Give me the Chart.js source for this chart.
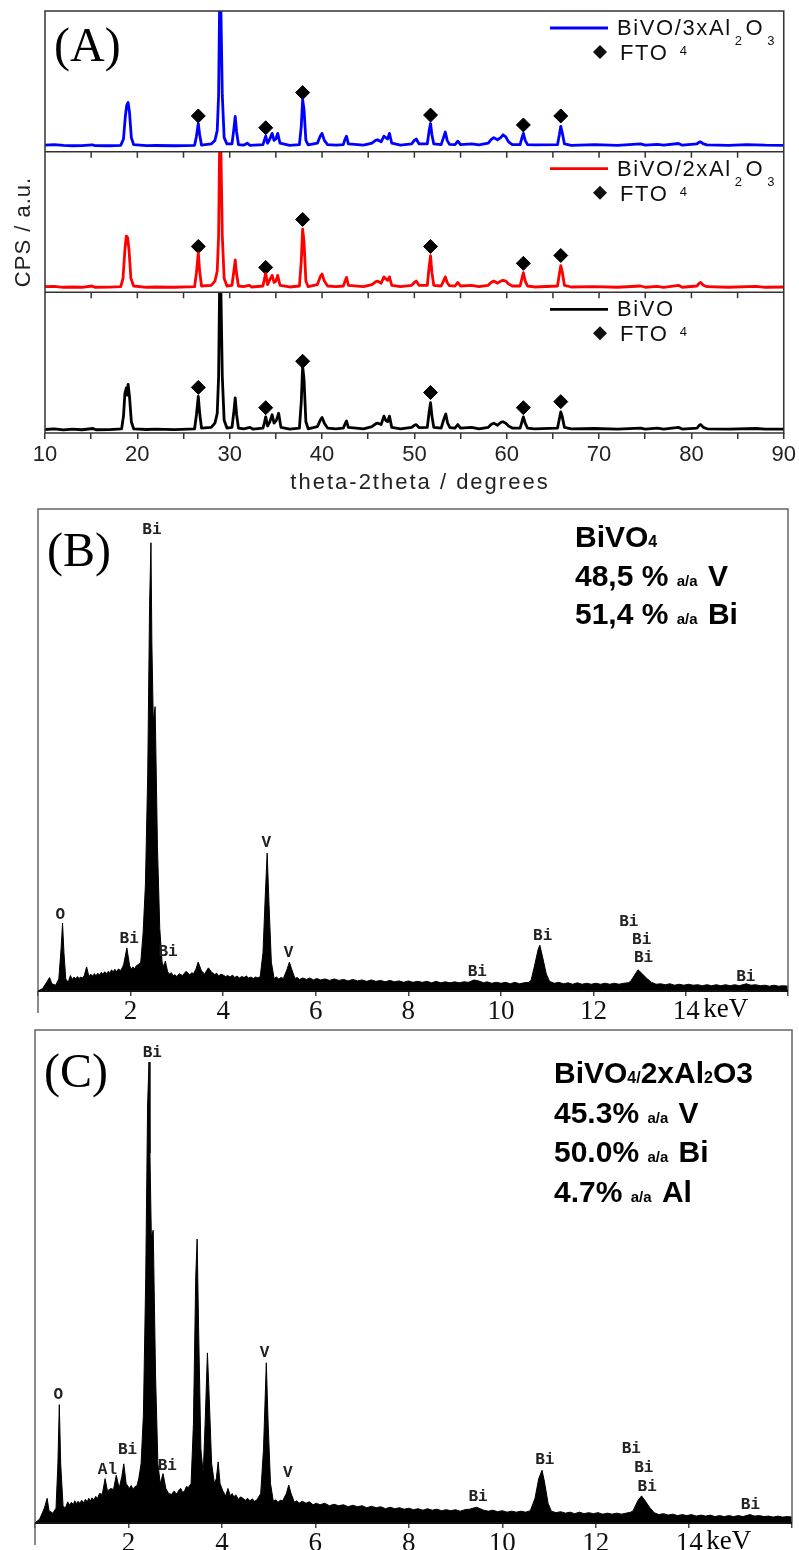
<!DOCTYPE html>
<html>
<head>
<meta charset="utf-8">
<script src="https://cdn.jsdelivr.net/npm/chart.js@4.4.1/dist/chart.umd.min.js"></script>
<style>
  body { margin: 0; background: #fff; }
  #wrap { position: relative; width: 799px; height: 1550px; }
  canvas { position: absolute; left: 0; }
</style>
</head>
<body>
<div id="wrap">
  <canvas id="xrd" width="799" height="500" style="top:0"></canvas>
  <canvas id="edsB" width="799" height="525" style="top:500px"></canvas>
  <canvas id="edsC" width="799" height="525" style="top:1025px"></canvas>
</div>
<script>
// ---- (A) XRD patterns: [2theta, intensity as % of its sub-panel]
var xrdBlue = [[10,4.6],[11,5.0],[12,4.5],[13,4.2],[14,4.3],[15.1,4.9],[15.4,4.3],[17,4.2],[18.2,4.5],[18.5,9],[18.7,25],[18.85,33],[19.0,35],[19.15,28],[19.35,10],[19.6,5],[21,4.3],[22,4.4],[24,4.2],[26.2,4.5],[26.4,11],[26.6,20],[26.75,12],[26.95,4.6],[28.0,5.5],[28.4,8],[28.65,15],[28.8,40],[28.9,100],[29.05,100],[29.2,40],[29.4,10],[29.7,5.5],[30.25,5.5],[30.45,16],[30.6,25],[30.75,14],[30.95,5],[31.5,4.6],[31.9,6],[32.2,4.5],[33.6,5],[33.75,8],[33.9,11],[34.1,6],[34.35,9],[34.6,13],[34.8,8],[35.0,9],[35.2,13],[35.45,6],[36.5,4.5],[37.55,5],[37.75,18],[37.9,37],[38.05,30],[38.25,8],[38.5,4.8],[39.5,6],[39.8,11],[40.0,13],[40.25,8],[40.6,5],[41.5,4.6],[42.3,5],[42.5,9],[42.65,11],[42.85,5.5],[44.5,4.6],[45.4,6],[45.8,8],[46.0,8.5],[46.4,7],[46.7,11],[46.9,10],[47.1,9],[47.3,13],[47.55,6],[48.5,4.6],[49.7,5.5],[50.0,8],[50.2,9],[50.5,5.5],[51.4,5.5],[51.6,15],[51.75,20],[51.9,12],[52.1,5.5],[52.9,5],[53.15,10],[53.35,14],[53.55,8],[53.8,5.2],[54.4,5],[54.7,7.5],[55,5],[56.2,5.5],[57,4.8],[58.0,6],[58.3,8.5],[58.6,10],[59.0,8.5],[59.35,10],[59.6,12],[59.9,10.5],[60.2,7],[60.6,5],[61.45,5],[61.65,10],[61.8,13],[62.0,8],[62.25,5],[63,4.8],[65.5,5],[65.7,12],[65.85,18],[66.0,14],[66.25,5.5],[67,4.5],[69.5,5],[72,4.5],[74.5,5.5],[75,4.6],[76.3,5.2],[77,4.6],[78.6,5.8],[79,4.6],[80.6,5.5],[80.85,6.8],[81.0,7],[81.3,5.5],[81.7,4.8],[84,4.5],[86,5],[88,4.6],[90,4.5]];
var xrdRed = [[10,4],[11,4.3],[12,3.6],[13,3.8],[14,3.6],[15.1,4.5],[15.4,3.6],[17,3.7],[18.2,4],[18.45,10],[18.65,30],[18.8,40],[18.95,39],[19.1,30],[19.3,10],[19.6,4.5],[21,3.6],[22,3.8],[24,3.6],[26.2,4],[26.4,14],[26.6,28],[26.75,15],[26.95,4.5],[28.0,5],[28.4,8],[28.65,15],[28.8,40],[28.9,100],[29.05,100],[29.2,40],[29.4,10],[29.7,4.5],[30.25,5],[30.45,15],[30.6,23],[30.75,13],[30.95,4.5],[31.5,4],[32.1,5],[32.4,3.8],[33.6,4.5],[33.75,9],[33.9,13.5],[34.1,5.5],[34.35,9],[34.6,12],[34.8,7],[35.0,8],[35.2,12],[35.45,5],[36.5,3.8],[37.55,4.5],[37.75,22],[37.9,45],[38.05,36],[38.25,8],[38.5,4],[39.5,5.5],[39.8,11],[40.0,13],[40.25,8],[40.6,4.5],[41.5,4],[42.3,4.5],[42.5,8],[42.65,10.6],[42.85,5],[44.5,4],[45.4,5.5],[45.8,7.5],[46.0,8],[46.4,6.5],[46.7,11],[46.9,9.5],[47.1,8.5],[47.3,11],[47.55,5],[48.5,4],[49.7,5],[50.0,7],[50.2,8],[50.5,5],[51.4,5],[51.6,18],[51.75,26],[51.9,14],[52.1,5],[52.9,4.5],[53.15,8],[53.35,11],[53.55,7],[53.8,4.7],[54.4,4.5],[54.7,7],[55,4.5],[56.2,5],[57,4],[58.0,5],[58.3,7],[58.6,8],[59.0,6.5],[59.35,8],[59.6,8.5],[59.9,8],[60.2,6],[60.6,4.5],[61.45,4.5],[61.65,10],[61.8,14],[62.0,8],[62.25,4.5],[63,3.8],[65.5,4.5],[65.7,13],[65.85,19],[66.0,15],[66.25,5],[67,3.8],[69.5,4],[72,3.6],[74.5,4.5],[75,3.6],[76.3,4.3],[77,3.6],[78.6,5],[79,3.6],[80.6,4.5],[80.85,6.5],[81.0,7],[81.3,5],[81.7,4],[84,3.6],[87,4.3],[88,3.6],[90,3.8]];
var xrdBlack = [[10,2.5],[11,3],[12,2.2],[13,2.8],[14,2.3],[15.2,3.2],[15.5,2.3],[17,2.4],[18.3,3],[18.5,12],[18.65,28],[18.8,32],[18.9,27],[19.0,34.5],[19.15,26],[19.35,8],[19.6,3],[21,2.5],[22,2.8],[24,2.4],[26.2,3],[26.4,13],[26.6,26],[26.75,14],[26.95,3.5],[28.0,4],[28.4,7],[28.65,14],[28.8,40],[28.9,100],[29.05,100],[29.2,40],[29.4,9],[29.7,3.5],[30.25,4],[30.45,15],[30.6,25],[30.75,13],[30.95,3.5],[31.5,3],[32.2,4],[32.5,2.8],[33.6,3.5],[33.75,7],[33.9,11.5],[34.1,5],[34.35,8],[34.6,13],[34.8,7],[35.05,9],[35.3,14],[35.55,4],[36.5,2.8],[37.55,3.5],[37.75,22],[37.9,47.5],[38.05,38],[38.25,8],[38.5,3],[39.5,4.5],[39.8,9],[40.0,11],[40.25,7],[40.6,3.5],[41.5,3],[42.3,3.5],[42.5,6.5],[42.65,8.6],[42.85,4],[44.5,3],[45.4,4.5],[45.8,6.5],[46.0,7],[46.4,6],[46.7,12],[46.9,9],[47.1,8],[47.3,12],[47.55,4],[48.5,3],[49.7,4],[50.0,5.5],[50.2,6],[50.5,3.8],[51.4,4],[51.6,15],[51.75,21.5],[51.9,12],[52.1,4],[52.9,3.5],[53.2,10],[53.4,13.5],[53.6,7],[53.85,3.8],[54.4,3.5],[54.7,6],[55,3.5],[56.2,4],[57,3],[58.0,4],[58.3,6],[58.6,7],[59.0,5.5],[59.35,7.5],[59.6,8],[59.9,7],[60.2,5],[60.6,3.5],[61.45,3.5],[61.65,8],[61.8,11.5],[62.0,7],[62.25,3.5],[63,3],[65.5,3.5],[65.7,10],[65.85,15],[66.0,12],[66.25,4],[67,3],[69.5,3.2],[72,2.8],[74.5,3.5],[75,2.8],[76.3,3.4],[77,2.8],[78.6,4],[79,2.8],[80.6,3.5],[80.85,5.5],[81.0,6],[81.3,4],[81.7,3],[84,2.7],[87,3.2],[88,2.7],[90,2.8]];
var ftoPos = [26.6, 33.9, 37.9, 51.75, 61.8, 65.85];
var ftoBlue = [25.4, 17, 42, 26, 19, 25.4];
var ftoRed = [32.6, 17.7, 51.8, 32.6, 20.6, 26.2];
var ftoBlack = [32.4, 18, 51, 28.8, 18, 22.3];
var xrdNames = ['BiVO4/3xAl2O3', 'BiVO4/2xAl2O3', 'BiVO4'];
var xrdColors = ['#0000ff', '#ff0000', '#000000'];

// ---- (B), (C) EDS spectra: [keV, counts as % of frame height]
var edsB = [[0.0,0],[0.1,0.5],[0.2,2.0],[0.25,2.8],[0.3,1.5],[0.38,1.2],[0.45,2.5],[0.5,9],[0.53,14.1],[0.56,8],[0.6,2.5],[0.65,1.8],[0.7,3.2],[0.74,2.4],[0.78,2.9],[0.82,2.5],[0.85,3.0],[0.89,2.6],[0.92,2.9],[0.96,2.7],[1.0,3.2],[1.05,5],[1.1,3.0],[1.14,3.5],[1.18,3.1],[1.22,3.6],[1.25,3.1],[1.29,3.7],[1.33,3.3],[1.37,3.9],[1.4,3.4],[1.44,4.0],[1.48,3.6],[1.52,4.1],[1.55,3.7],[1.59,4.4],[1.62,3.9],[1.66,4.5],[1.7,4.0],[1.74,4.6],[1.78,4.2],[1.82,4.8],[1.85,5.5],[1.92,8.9],[1.98,5.2],[2.02,4.5],[2.05,5.0],[2.09,4.6],[2.12,5.2],[2.17,5.5],[2.22,6],[2.27,12],[2.32,22],[2.37,45],[2.41,80],[2.44,93],[2.46,72],[2.49,56],[2.53,59],[2.58,30],[2.63,13],[2.68,6],[2.72,5],[2.75,6.2],[2.8,4],[2.84,3.5],[2.88,3.8],[2.92,3.1],[2.95,3.4],[3.0,3.0],[3.05,3.6],[3.12,3.2],[3.2,4.1],[3.28,3.3],[3.32,3.8],[3.36,3.6],[3.41,4.5],[3.46,6],[3.53,4.2],[3.6,3.5],[3.64,4.2],[3.68,4.8],[3.75,3.9],[3.82,3.4],[3.86,3.7],[3.9,3.1],[3.95,3.5],[4.0,3.3],[4.05,3.0],[4.1,3.2],[4.15,2.9],[4.2,3.3],[4.25,2.8],[4.3,3.1],[4.35,2.7],[4.4,3.0],[4.45,2.8],[4.5,3.1],[4.55,2.7],[4.6,2.9],[4.65,2.6],[4.7,2.9],[4.75,2.7],[4.8,3.0],[4.86,8],[4.91,20],[4.95,28.6],[4.99,18],[5.04,6],[5.1,2.6],[5.15,2.9],[5.2,2.5],[5.25,2.8],[5.3,2.6],[5.38,4.5],[5.43,6],[5.48,4.5],[5.55,2.6],[5.6,2.8],[5.65,2.4],[5.72,2.7],[5.8,2.4],[5.87,2.7],[5.95,2.3],[6.02,2.6],[6.1,2.3],[6.2,2.5],[6.3,2.2],[6.4,2.5],[6.5,2.2],[6.6,2.4],[6.7,2.1],[6.8,2.4],[6.9,2.1],[7.0,2.3],[7.1,2.0],[7.2,2.3],[7.3,2.0],[7.4,2.2],[7.5,1.9],[7.6,2.2],[7.7,1.9],[7.8,2.1],[7.9,1.8],[8.0,2.1],[8.1,1.8],[8.2,2.0],[8.3,1.8],[8.4,2.0],[8.5,1.7],[8.6,2.0],[8.7,1.7],[8.8,1.9],[8.9,1.7],[9.0,1.9],[9.1,1.7],[9.2,1.9],[9.3,1.8],[9.42,2.3],[9.55,2.0],[9.62,1.7],[9.7,1.9],[9.8,1.6],[9.9,1.8],[10.0,1.6],[10.1,1.8],[10.2,1.5],[10.3,1.8],[10.4,1.5],[10.5,1.7],[10.6,1.8],[10.65,2.2],[10.72,5],[10.8,8.5],[10.84,9.5],[10.9,7],[10.98,3.5],[11.05,2.0],[11.15,1.6],[11.25,1.8],[11.35,1.5],[11.45,1.7],[11.55,1.4],[11.65,1.7],[11.75,1.4],[11.85,1.6],[11.95,1.4],[12.05,1.6],[12.15,1.4],[12.25,1.6],[12.35,1.4],[12.45,1.6],[12.55,1.4],[12.65,1.6],[12.75,1.7],[12.8,2.0],[12.9,3.5],[12.96,4.4],[13.05,3.6],[13.15,2.6],[13.25,1.8],[13.35,1.4],[13.45,1.5],[13.55,1.3],[13.65,1.5],[13.75,1.2],[13.85,1.4],[13.95,1.2],[14.05,1.4],[14.15,1.2],[14.25,1.3],[14.35,1.1],[14.45,1.3],[14.55,1.1],[14.65,1.3],[14.75,1.1],[14.85,1.3],[14.95,1.1],[15.05,1.3],[15.15,1.1],[15.3,1.5],[15.4,1.2],[15.5,1.3],[15.6,1.1],[15.7,1.2],[15.8,1.0],[15.9,1.2],[16.0,1.0],[16.1,1.1],[16.2,1.0]];
var edsC = [[0.0,0],[0.1,0.8],[0.2,3.0],[0.26,5],[0.3,2.5],[0.38,2],[0.45,3],[0.49,12],[0.52,24],[0.55,12],[0.6,3.5],[0.65,3],[0.7,4.3],[0.74,3.6],[0.78,4.2],[0.82,3.7],[0.85,4.5],[0.89,3.9],[0.92,4.4],[0.96,4.0],[1.0,4.6],[1.04,4.1],[1.08,4.8],[1.12,4.3],[1.15,5.0],[1.19,4.5],[1.22,5.1],[1.26,4.7],[1.3,5.4],[1.34,5.0],[1.38,6],[1.44,5.8],[1.5,9],[1.55,6.5],[1.62,7],[1.68,6.8],[1.74,9.7],[1.8,7],[1.86,9.5],[1.9,12],[1.95,8],[2.02,7],[2.06,7.6],[2.1,6.8],[2.14,7.4],[2.18,7.5],[2.22,9],[2.27,12],[2.32,22],[2.37,50],[2.41,85],[2.44,93.5],[2.46,75],[2.49,58],[2.53,59.4],[2.58,30],[2.63,12],[2.68,8],[2.71,9],[2.74,10],[2.8,7],[2.86,6],[2.92,5.8],[2.98,6.5],[3.02,5.9],[3.05,6.2],[3.09,6.8],[3.12,7],[3.16,6.2],[3.2,6.5],[3.24,7.4],[3.28,7.2],[3.34,8],[3.39,20],[3.44,50],[3.47,57.6],[3.5,40],[3.55,15],[3.6,10],[3.64,20],[3.69,34.5],[3.73,25],[3.78,12],[3.84,8],[3.88,9],[3.92,12.4],[3.96,8],[4.02,6.5],[4.08,5.5],[4.13,7],[4.18,5.5],[4.22,6.0],[4.25,5.3],[4.3,5.7],[4.35,4.8],[4.4,5.3],[4.45,5.0],[4.5,4.6],[4.55,5.0],[4.6,4.5],[4.65,4.9],[4.7,4.4],[4.75,4.7],[4.83,6],[4.89,15],[4.95,32.5],[4.99,20],[5.04,8],[5.1,4.4],[5.15,4.7],[5.2,4.2],[5.25,4.6],[5.3,4.5],[5.38,6],[5.43,7.7],[5.48,6],[5.55,4.2],[5.6,4.5],[5.65,4.0],[5.72,4.4],[5.8,4.0],[5.87,4.3],[5.95,3.7],[6.02,4.0],[6.1,3.7],[6.2,4.0],[6.3,3.5],[6.4,3.8],[6.5,3.5],[6.6,3.7],[6.7,3.3],[6.8,3.6],[6.9,3.3],[7.0,3.5],[7.1,3.1],[7.2,3.4],[7.3,3.1],[7.4,3.3],[7.5,2.9],[7.6,3.2],[7.7,2.9],[7.8,3.1],[7.9,2.8],[8.0,3.0],[8.1,2.7],[8.2,2.9],[8.3,2.6],[8.4,2.9],[8.5,2.6],[8.6,2.8],[8.7,2.5],[8.8,2.7],[8.9,2.5],[9.0,2.7],[9.1,2.4],[9.2,2.7],[9.3,2.8],[9.45,3.2],[9.6,2.6],[9.7,2.4],[9.8,2.6],[9.9,2.3],[10.0,2.5],[10.1,2.2],[10.2,2.4],[10.3,2.2],[10.4,2.4],[10.5,2.2],[10.6,2.5],[10.7,5],[10.78,9],[10.85,10.7],[10.9,8.5],[10.98,4],[11.05,2.4],[11.15,2.1],[11.25,2.3],[11.35,2.0],[11.45,2.2],[11.55,1.9],[11.65,2.2],[11.75,1.9],[11.85,2.1],[11.95,1.9],[12.05,2.1],[12.15,1.8],[12.25,2.0],[12.35,1.8],[12.45,2.0],[12.55,1.8],[12.65,2.0],[12.75,2.2],[12.8,2.5],[12.9,4.5],[12.98,5.5],[13.05,4.6],[13.15,3.2],[13.25,2.1],[13.35,1.7],[13.45,1.9],[13.55,1.6],[13.65,1.8],[13.75,1.5],[13.85,1.7],[13.95,1.5],[14.05,1.7],[14.15,1.4],[14.25,1.6],[14.35,1.4],[14.45,1.6],[14.55,1.3],[14.65,1.5],[14.75,1.3],[14.85,1.5],[14.95,1.3],[15.05,1.5],[15.15,1.3],[15.3,1.7],[15.4,1.4],[15.5,1.5],[15.6,1.3],[15.7,1.4],[15.8,1.2],[15.9,1.4],[16.0,1.2],[16.1,1.3],[16.2,1.2]];
// peak labels: [text, keV, height]
var edsBLabels = [['O',0.48,15.8],['Bi',1.97,10.8],['Bi',2.46,95.6],['Bi',2.81,8.1],['V',4.93,30.7],['V',5.41,7.9],['Bi',9.49,3.9],['Bi',10.9,11.4],['Bi',12.76,14.3],['Bi',13.04,10.6],['Bi',13.08,6.8],['Bi',15.29,2.9]];
var edsCLabels = [['O',0.5,26],['Al',1.55,10.8],['Bi',1.98,14.8],['Bi',2.51,95.3],['Bi',2.83,11.6],['V',4.91,34.5],['V',5.41,10.1],['Bi',9.48,5.3],['Bi',10.91,12.8],['Bi',12.76,15],['Bi',13.03,11.2],['Bi',13.1,7.3],['Bi',15.31,3.7]];
// composition notes: runs of [text, style] (0 big, 1 subscript, 2 small)
var edsBNote = [[['BiVO',0],['4',1]], [['48,5 % ',0],['a/a',2],[' V',0]], [['51,4 % ',0],['a/a',2],[' Bi',0]]];
var edsCNote = [[['BiVO',0],['4/',1],['2xAl',0],['2',1],['O3',0]], [['45.3% ',0],['a/a',2],[' V',0]], [['50.0% ',0],['a/a',2],[' Bi',0]], [['4.7% ',0],['a/a',2],[' Al',0]]];

function pts(arr) { return arr.map(function (p) { return {x: p[0], y: p[1]}; }); }
function ftoPts(ys) { return ftoPos.map(function (x, i) { return {x: x, y: ys[i]}; }); }

function diamond(ctx, x, y, r) {
  ctx.beginPath();
  ctx.moveTo(x, y - r); ctx.lineTo(x + r, y); ctx.lineTo(x, y + r); ctx.lineTo(x - r, y);
  ctx.closePath(); ctx.fill();
}

// formula with subscripts; the first subscript drops to the line below (as in the original legend)
function drawFormula(ctx, s, x, y) {
  var runs = [], cur = '', first = true;
  for (var i = 0; i < s.length; i++) {
    var c = s[i];
    if (/[0-9]/.test(c) && i > 0 && /[A-Za-z]/.test(s[i - 1])) {
      if (cur) { runs.push([cur, 0]); cur = ''; }
      runs.push([c, 1]);
    } else cur += c;
  }
  if (cur) runs.push([cur, 0]);
  runs.forEach(function (r) {
    if (r[1] === 0) {
      ctx.font = '22px "Liberation Sans"';
      ctx.fillText(r[0], x, y);
      x += ctx.measureText(r[0]).width;
    } else {
      ctx.font = '13px "Liberation Sans"';
      if (first) { ctx.fillText(r[0], x + 5, y + 20); first = false; }
      else { ctx.fillText(r[0], x + 3, y + 10); x += ctx.measureText(r[0]).width + 5; }
    }
  });
}

var xrdDecor = {
  id: 'xrdDecor',
  afterDraw: function (chart) {
    var ctx = chart.ctx, a = chart.chartArea, xs = chart.scales.x;
    ctx.save();
    ctx.strokeStyle = '#333'; ctx.lineWidth = 1.5;
    ctx.strokeRect(a.left, a.top, a.right - a.left, a.bottom - a.top);
    ['yBlue', 'yRed'].forEach(function (id) {
      var yy = chart.scales[id].bottom;
      ctx.beginPath(); ctx.moveTo(a.left, yy); ctx.lineTo(a.right, yy);
      for (var v = 15; v < 90; v += 5) {
        var px = xs.getPixelForValue(v);
        ctx.moveTo(px, yy); ctx.lineTo(px, yy + 6);
      }
      ctx.stroke();
    });
    ctx.fillStyle = '#000';
    ctx.textAlign = 'left'; ctx.textBaseline = 'alphabetic';
    ['yBlue', 'yRed', 'yBlack'].forEach(function (id, i) {
      var top = chart.scales[id].top;
      ctx.strokeStyle = xrdColors[i]; ctx.lineWidth = 2.8;
      ctx.beginPath(); ctx.moveTo(550, top + 17); ctx.lineTo(608, top + 17); ctx.stroke();
      ctx.fillStyle = '#111';
      ctx.letterSpacing = '1.6px';
      drawFormula(ctx, xrdNames[i], 617, top + 24);
      diamond(ctx, 600, top + 41, 7);
      ctx.font = '22px "Liberation Sans"';
      ctx.fillText('FTO', 620, top + 49);
      ctx.letterSpacing = '0px';
    });
    ctx.fillStyle = '#000';
    ctx.font = '48px "Liberation Serif"';
    ctx.fillText('(A)', 54, 61);
    ctx.fillStyle = '#222';
    ctx.font = '22px "Liberation Sans"';
    ctx.letterSpacing = '2px';
    ctx.textAlign = 'center';
    ctx.fillText('theta-2theta / degrees', 420, 489);
    ctx.letterSpacing = '1px';
    ctx.translate(30, 232); ctx.rotate(-Math.PI / 2);
    ctx.fillText('CPS / a.u.', 0, 0);
    ctx.restore();
  }
};

function ySub(weight) {
  return {
    type: 'linear', axis: 'y', position: 'left', stack: 'xrd', stackWeight: weight,
    min: 0, max: 100,
    ticks: {display: false}, grid: {display: false}, border: {display: false},
    afterFit: function (s) { s.width = 45; }
  };
}

function xrdLine(data, axis, color) {
  return {data: pts(data), yAxisID: axis, borderColor: color, borderWidth: 2.8,
    borderJoinStyle: 'round', pointRadius: 0, tension: 0};
}
function ftoSet(ys, axis) {
  return {data: ftoPts(ys), yAxisID: axis, showLine: false, pointStyle: 'rectRot',
    pointRadius: 7, backgroundColor: '#000', borderColor: '#000'};
}

new Chart(document.getElementById('xrd'), {
  type: 'line',
  data: {
    datasets: [
      xrdLine(xrdBlack, 'yBlack', xrdColors[2]),
      xrdLine(xrdRed, 'yRed', xrdColors[1]),
      xrdLine(xrdBlue, 'yBlue', xrdColors[0]),
      ftoSet(ftoBlack, 'yBlack'),
      ftoSet(ftoRed, 'yRed'),
      ftoSet(ftoBlue, 'yBlue')
    ]
  },
  options: {
    responsive: false, animation: false, events: [],
    layout: {padding: {top: 11, right: 14, left: 0, bottom: 0}},
    plugins: {legend: {display: false}, tooltip: {enabled: false}},
    scales: {
      x: {
        type: 'linear', min: 10, max: 90,
        ticks: {stepSize: 5, autoSkip: false, maxRotation: 0, padding: 3, color: '#222',
          font: {family: 'Liberation Sans', size: 22},
          callback: function (v) { return v % 10 === 0 ? v : ''; }},
        grid: {drawOnChartArea: false, tickLength: 6, color: '#333', lineWidth: 1.5},
        border: {display: false},
        afterFit: function (s) { s.height = 67; }
      },
      yBlack: ySub(1),
      yRed: ySub(1),
      yBlue: ySub(1)
    }
  },
  plugins: [xrdDecor]
});

function edsDecor(letter, labels, note, noteX, noteY, noteGap) {
  var fonts = ['bold 30px "Liberation Sans"', 'bold 16px "Liberation Sans"', 'bold 15px "Liberation Sans"'];
  return {
    id: 'edsDecor',
    afterDraw: function (chart) {
      var ctx = chart.ctx, a = chart.chartArea, xs = chart.scales.x, ys = chart.scales.y;
      ctx.save();
      ctx.strokeStyle = '#666'; ctx.lineWidth = 1.5;
      ctx.beginPath();
      ctx.moveTo(a.left, a.bottom + 22); ctx.lineTo(a.left, a.top);
      ctx.lineTo(a.right, a.top); ctx.lineTo(a.right, a.bottom);
      ctx.stroke();
      ctx.strokeStyle = '#111'; ctx.lineWidth = 2;
      ctx.beginPath(); ctx.moveTo(a.left, a.bottom); ctx.lineTo(a.right, a.bottom); ctx.stroke();

      ctx.fillStyle = '#000';
      ctx.textAlign = 'left'; ctx.textBaseline = 'alphabetic';
      ctx.font = '48px "Liberation Serif"';
      ctx.fillText('(' + letter + ')', a.left + 9, a.top + 57);

      note.forEach(function (line, i) {
        var cx = noteX, by = noteY + i * noteGap;
        line.forEach(function (run) {
          ctx.font = fonts[run[1]];
          ctx.fillText(run[0], cx, by);
          cx += ctx.measureText(run[0]).width + (run[1] === 2 ? 2 : 0);
        });
      });

      ctx.font = '27px "Liberation Serif"'; ctx.textBaseline = 'top';
      ctx.fillText('keV', xs.getPixelForValue(14) + 17, a.bottom + 5);

      ctx.font = 'bold 16px "Liberation Mono"';
      ctx.textAlign = 'center'; ctx.textBaseline = 'middle'; ctx.fillStyle = '#222';
      labels.forEach(function (l) {
        ctx.fillText(l[0], xs.getPixelForValue(l[1]), ys.getPixelForValue(l[2]));
      });
      ctx.restore();
    }
  };
}

function edsChart(id, data, labels, note, letter, pad, axisH, noteX, noteY, noteGap) {
  return new Chart(document.getElementById(id), {
    type: 'line',
    data: {datasets: [{data: pts(data), borderColor: '#000', backgroundColor: '#000', borderWidth: 1,
      fill: 'origin', pointRadius: 0, tension: 0}]},
    options: {
      responsive: false, animation: false, events: [],
      layout: {padding: pad},
      plugins: {legend: {display: false}, tooltip: {enabled: false}},
      scales: {
        x: {
          type: 'linear', min: 0, max: 16.2,
          ticks: {stepSize: 2, autoSkip: false, maxRotation: 0, padding: 0, color: '#111',
            font: {family: 'Liberation Serif', size: 27},
            callback: function (v) { return (v >= 2 && v <= 14 && v % 2 === 0) ? v : ''; }},
          grid: {drawOnChartArea: false, tickLength: 5, color: '#444', lineWidth: 1.5},
          border: {display: false},
          afterFit: function (s) { s.height = axisH; }
        },
        y: {display: false, min: 0, max: 100}
      }
    },
    plugins: [edsDecor(letter, labels, note, noteX, noteY, noteGap)]
  });
}

edsChart('edsB', edsB, edsBLabels, edsBNote, 'B', {top: 9, right: 11, left: 38, bottom: 0}, 34, 575, 47, 38.5);
edsChart('edsC', edsC, edsCLabels, edsCNote, 'C', {top: 5, right: 7, left: 35, bottom: 0}, 27, 554, 58, 39.7);
</script>
</body>
</html>
